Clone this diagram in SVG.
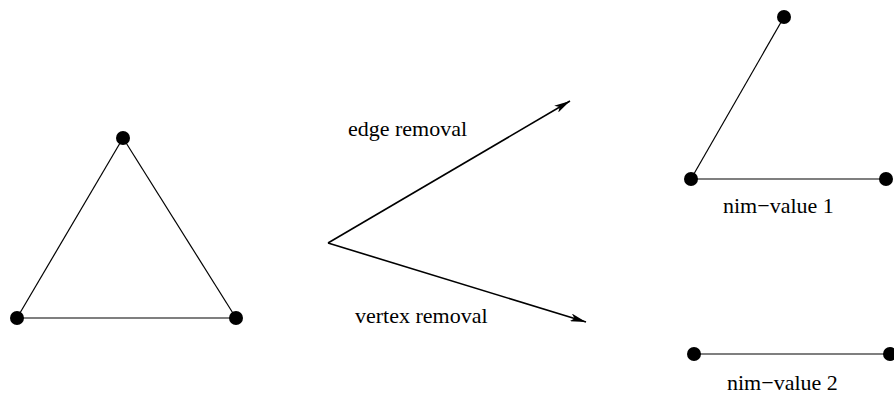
<svg xmlns="http://www.w3.org/2000/svg" width="894" height="394" viewBox="0 0 894 394">
<style>
.e{stroke:#000;stroke-width:1.2;fill:none}
.a{stroke:#000;stroke-width:1.6;fill:none}
.n{fill:#000}
.t{font-family:"Liberation Serif",serif;font-size:22px;fill:#000}
</style>
<defs>
<marker id="ah" viewBox="0 0 16 8" refX="16" refY="4" markerWidth="16" markerHeight="8" markerUnits="userSpaceOnUse" orient="auto">
<path d="M0,0 L16,4 L0,8 L4,4 Z" fill="#000"/>
</marker>
</defs>
<rect width="894" height="394" fill="#fff"/>
<g id="connectors">
<line class="e" x1="123" y1="138" x2="17" y2="318"/>
<line class="e" x1="123" y1="138" x2="236" y2="318"/>
<line class="e" x1="17" y1="318" x2="236" y2="318"/>
<line class="e" x1="784" y1="17" x2="691" y2="179"/>
<line class="e" x1="691" y1="179" x2="886" y2="179"/>
<line class="e" x1="694" y1="354" x2="890" y2="354"/>
<line class="a" x1="328" y1="243" x2="570" y2="101" marker-end="url(#ah)"/>
<line class="a" x1="328" y1="243" x2="586" y2="322" marker-end="url(#ah)"/>
</g>
<g id="n1"><circle class="n" cx="123" cy="138" r="7"/></g>
<g id="n2"><circle class="n" cx="17" cy="318" r="7"/></g>
<g id="n3"><circle class="n" cx="236" cy="318" r="7"/></g>
<g id="n4"><circle class="n" cx="784" cy="17" r="7"/></g>
<g id="n5"><circle class="n" cx="691" cy="179" r="7"/></g>
<g id="n6"><circle class="n" cx="886" cy="179" r="7"/></g>
<g id="n7"><circle class="n" cx="694" cy="354" r="7"/></g>
<g id="n8"><circle class="n" cx="890" cy="354" r="7"/></g>
<g id="labels">
<text class="t" x="348" y="136">edge removal</text>
<text class="t" x="355" y="323">vertex removal</text>
<text class="t" x="723" y="213">nim−value 1</text>
<text class="t" x="727" y="390">nim−value 2</text>
</g>
</svg>
